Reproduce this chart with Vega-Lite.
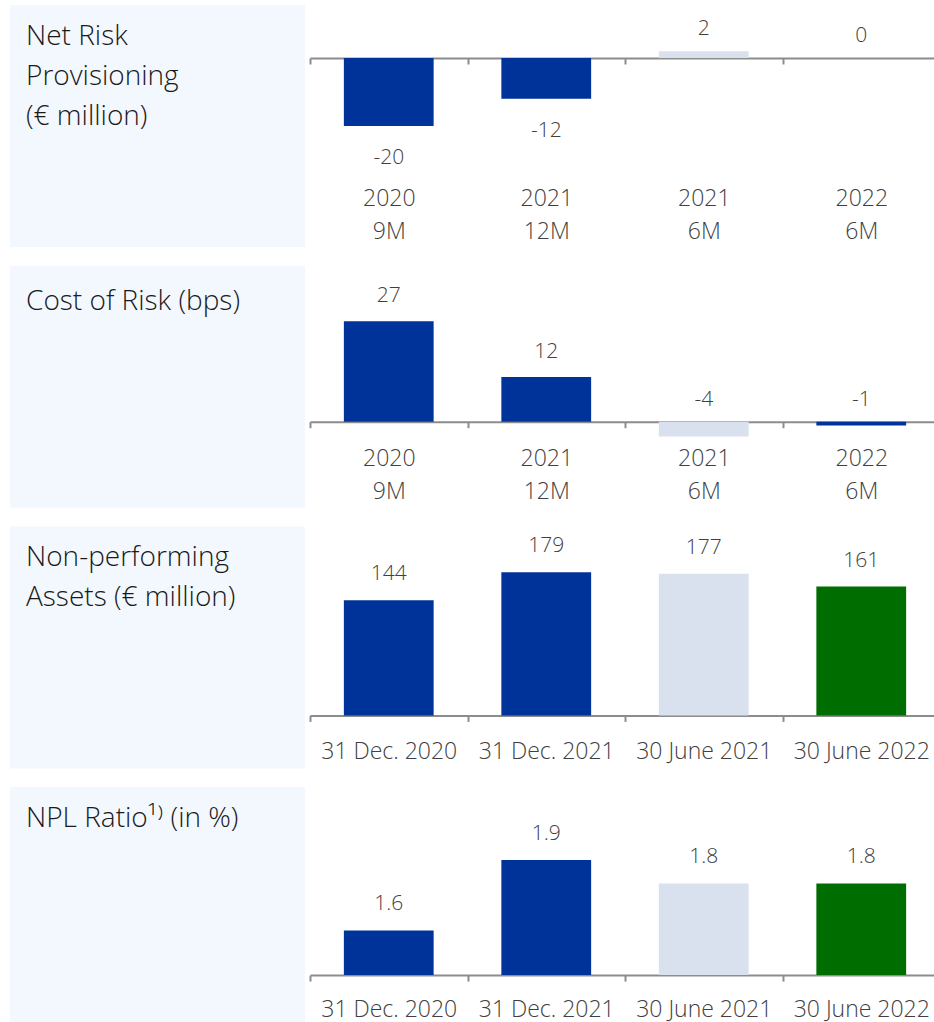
{
  "$schema": "https://vega.github.io/schema/vega-lite/v6.json",
  "padding": {"left": 10, "top": 5, "right": 0, "bottom": 0},
  "autosize": {"type": "pad"},
  "background": "white",
  "bounds": "flush",
  "columns": 2,
  "spacing": {"row": 18.7, "column": 5},
  "resolve": {"scale": {"color": "independent", "x": "independent", "y": "independent"}},
  "config": {
    "view": {"stroke": null},
    "font": "Open Sans",
    "axisX": {
      "title": null,
      "labelAngle": 0,
      "labelFont": "Open Sans",
      "labelFontSize": 23,
      "labelFontWeight": 300,
      "labelColor": "#404040",
      "labelLineHeight": 33,
      "labelExpr": "split(datum.label, '|')",
      "domainColor": "#8C8C8C",
      "domainWidth": 2,
      "tickColor": "#8C8C8C",
      "tickWidth": 2,
      "tickSize": 6,
      "tickBand": "extent",
      "grid": false
    },
    "title": {
      "anchor": "start",
      "frame": "group",
      "orient": "bottom",
      "font": "Open Sans",
      "fontSize": 28,
      "fontWeight": 300,
      "color": "#1A1A1A",
      "lineHeight": 40,
      "baseline": "top",
      "dx": 16
    },
    "bar": {"width": {"band": 0.57}},
    "text": {"font": "Open Sans", "fontSize": 21, "fontWeight": 300, "color": "#404040", "baseline": "alphabetic"}
  },
  "concat": [
    {
      "width": 295, "height": 242,
      "view": {"fill": "#F3F8FE", "stroke": null},
      "title": {"text": ["Net Risk", "Provisioning", "(€ million)"], "offset": -224},
      "data": {"values": [{}]},
      "mark": {"type": "rect", "fillOpacity": 0},
      "encoding": {}
    },
    {
      "width": 630, "height": 53,
      "data": {"values": [
        {"period": "2020|9M", "value": -20},
        {"period": "2021|12M", "value": -12},
        {"period": "2021|6M", "value": 2},
        {"period": "2022|6M", "value": 0}
      ]},
      "encoding": {
        "x": {"field": "period", "type": "nominal", "sort": null,
              "scale": {"paddingInner": 0, "paddingOuter": 0},
              "axis": {"labelPadding": 123}}
      },
      "layer": [
        {
          "mark": {"type": "bar"},
          "encoding": {
            "y": {"field": "value", "type": "quantitative", "scale": {"domain": [0, 15.6], "nice": false}, "axis": null},
            "color": {"field": "period", "type": "nominal", "sort": null,
                      "scale": {"domain": ["2020|9M", "2021|12M", "2021|6M", "2022|6M"], "range": ["#003399", "#003399", "#D9E0EE", "#003399"]},
                      "legend": null}
          }
        },
        {
          "transform": [{"filter": "datum.value >= 0"}],
          "mark": {"type": "text", "dy": -16},
          "encoding": {
            "y": {"field": "value", "type": "quantitative"},
            "text": {"field": "value", "type": "nominal"}
          }
        },
        {
          "transform": [{"filter": "datum.value < 0"}],
          "mark": {"type": "text", "dy": 38},
          "encoding": {
            "y": {"field": "value", "type": "quantitative"},
            "text": {"field": "value", "type": "nominal"}
          }
        }
      ]
    },
    {
      "width": 295, "height": 242,
      "view": {"fill": "#F3F8FE", "stroke": null},
      "title": {"text": ["Cost of Risk (bps)"], "offset": -220},
      "data": {"values": [{}]},
      "mark": {"type": "rect", "fillOpacity": 0},
      "encoding": {}
    },
    {
      "width": 630, "height": 156,
      "data": {"values": [
        {"period": "2020|9M", "value": 27},
        {"period": "2021|12M", "value": 12},
        {"period": "2021|6M", "value": -4},
        {"period": "2022|6M", "value": -1}
      ]},
      "encoding": {
        "x": {"field": "period", "type": "nominal", "sort": null,
              "scale": {"paddingInner": 0, "paddingOuter": 0},
              "axis": {"labelPadding": 20}}
      },
      "layer": [
        {
          "mark": {"type": "bar"},
          "encoding": {
            "y": {"field": "value", "type": "quantitative", "scale": {"domain": [0, 41.9], "nice": false}, "axis": null},
            "color": {"field": "period", "type": "nominal", "sort": null,
                      "scale": {"domain": ["2020|9M", "2021|12M", "2021|6M", "2022|6M"], "range": ["#003399", "#003399", "#D9E0EE", "#003399"]},
                      "legend": null}
          }
        },
        {
          "transform": [{"filter": "datum.value >= 0"}],
          "mark": {"type": "text", "dy": -19},
          "encoding": {
            "y": {"field": "value", "type": "quantitative"},
            "text": {"field": "value", "type": "nominal"}
          }
        },
        {
          "transform": [{"filter": "datum.value < 0"}],
          "mark": {"type": "text", "dy": -16},
          "encoding": {
            "y": {"datum": 0, "type": "quantitative"},
            "text": {"field": "value", "type": "nominal"}
          }
        }
      ]
    },
    {
      "width": 295, "height": 242,
      "view": {"fill": "#F3F8FE", "stroke": null},
      "title": {"text": ["Non-performing", "Assets (€ million)"], "offset": -224},
      "data": {"values": [{}]},
      "mark": {"type": "rect", "fillOpacity": 0},
      "encoding": {}
    },
    {
      "width": 630, "height": 189,
      "data": {"values": [
        {"period": "31 Dec. 2020", "value": 144},
        {"period": "31 Dec. 2021", "value": 179},
        {"period": "30 June 2021", "value": 177},
        {"period": "30 June 2022", "value": 161}
      ]},
      "encoding": {
        "x": {"field": "period", "type": "nominal", "sort": null,
              "scale": {"paddingInner": 0, "paddingOuter": 0},
              "axis": {"labelPadding": 19}}
      },
      "layer": [
        {
          "mark": {"type": "bar"},
          "encoding": {
            "y": {"field": "value", "type": "quantitative", "scale": {"domain": [0, 236.25], "nice": false}, "axis": null},
            "color": {"field": "period", "type": "nominal", "sort": null,
                      "scale": {"domain": ["31 Dec. 2020", "31 Dec. 2021", "30 June 2021", "30 June 2022"], "range": ["#003399", "#003399", "#D9E0EE", "#006D00"]},
                      "legend": null}
          }
        },
        {
          "mark": {"type": "text", "dy": -20},
          "encoding": {
            "y": {"field": "value", "type": "quantitative"},
            "text": {"field": "value", "type": "nominal"}
          }
        }
      ]
    },
    {
      "width": 295, "height": 242,
      "view": {"fill": "#F3F8FE", "stroke": null},
      "title": {"text": ["NPL Ratio¹⁾ (in %)"], "offset": -224},
      "data": {"values": [{}]},
      "mark": {"type": "rect", "fillOpacity": 0},
      "encoding": {}
    },
    {
      "width": 630, "height": 188,
      "data": {"values": [
        {"period": "31 Dec. 2020", "value": 1.6},
        {"period": "31 Dec. 2021", "value": 1.9},
        {"period": "30 June 2021", "value": 1.8},
        {"period": "30 June 2022", "value": 1.8}
      ]},
      "encoding": {
        "x": {"field": "period", "type": "nominal", "sort": null,
              "scale": {"paddingInner": 0, "paddingOuter": 0},
              "axis": {"labelPadding": 17}}
      },
      "layer": [
        {
          "mark": {"type": "bar"},
          "encoding": {
            "y": {"field": "value", "type": "quantitative", "scale": {"domain": [1.41, 2.21], "nice": false, "zero": false}, "axis": null},
            "y2": {"datum": 1.41},
            "color": {"field": "period", "type": "nominal", "sort": null,
                      "scale": {"domain": ["31 Dec. 2020", "31 Dec. 2021", "30 June 2021", "30 June 2022"], "range": ["#003399", "#003399", "#D9E0EE", "#006D00"]},
                      "legend": null}
          }
        },
        {
          "mark": {"type": "text", "dy": -20},
          "encoding": {
            "y": {"field": "value", "type": "quantitative"},
            "text": {"field": "value", "type": "quantitative", "format": ".1f"}
          }
        }
      ]
    }
  ]
}
